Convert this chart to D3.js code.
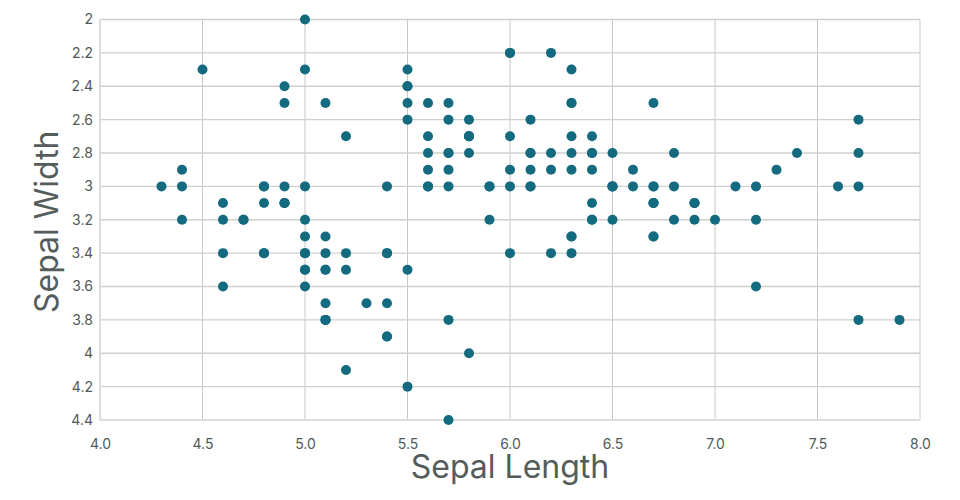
<!DOCTYPE html>
<html><head><meta charset="utf-8">
<script src="https://cdn.jsdelivr.net/npm/d3@7"></script>
<style>body{margin:0;background:#fff}svg{display:block;font-family:Inter,"Open Sans",sans-serif}</style>
</head><body><svg id="c" width="960" height="500"></svg>
<script>
const sepalLength = [5.1,4.9,4.7,4.6,5.0,5.4,4.6,5.0,4.4,4.9,5.4,4.8,4.8,4.3,5.8,5.7,5.4,5.1,5.7,5.1,5.4,5.1,4.6,5.1,4.8,5.0,5.0,5.2,5.2,4.7,4.8,5.4,5.2,5.5,4.9,5.0,5.5,4.9,4.4,5.1,5.0,4.5,4.4,5.0,5.1,4.8,5.1,4.6,5.3,5.0,
7.0,6.4,6.9,5.5,6.5,5.7,6.3,4.9,6.6,5.2,5.0,5.9,6.0,6.1,5.6,6.7,5.6,5.8,6.2,5.6,5.9,6.1,6.3,6.1,6.4,6.6,6.8,6.7,6.0,5.7,5.5,5.5,5.8,6.0,5.4,6.0,6.7,6.3,5.6,5.5,5.5,6.1,5.8,5.0,5.6,5.7,5.7,6.2,5.1,5.7,
6.3,5.8,7.1,6.3,6.5,7.6,4.9,7.3,6.7,7.2,6.5,6.4,6.8,5.7,5.8,6.4,6.5,7.7,7.7,6.0,6.9,5.6,7.7,6.3,6.7,7.2,6.2,6.1,6.4,7.2,7.4,7.9,6.4,6.3,6.1,7.7,6.3,6.4,6.0,6.9,6.7,6.9,5.8,6.8,6.7,6.7,6.3,6.5,6.2,5.9];
const sepalWidth = [3.5,3.0,3.2,3.1,3.6,3.9,3.4,3.4,2.9,3.1,3.7,3.4,3.0,3.0,4.0,4.4,3.9,3.5,3.8,3.8,3.4,3.7,3.6,3.3,3.4,3.0,3.4,3.5,3.4,3.2,3.1,3.4,4.1,4.2,3.1,3.2,3.5,3.1,3.0,3.4,3.5,2.3,3.2,3.5,3.8,3.0,3.8,3.2,3.7,3.3,
3.2,3.2,3.1,2.3,2.8,2.8,3.3,2.4,2.9,2.7,2.0,3.0,2.2,2.9,2.9,3.1,3.0,2.7,2.2,2.5,3.2,2.8,2.5,2.8,2.9,3.0,2.8,3.0,2.9,2.6,2.4,2.4,2.7,2.7,3.0,3.4,3.1,2.3,3.0,2.5,2.6,3.0,2.6,2.3,2.7,3.0,2.9,2.9,2.5,2.8,
3.3,2.7,3.0,2.9,3.0,3.0,2.5,2.9,2.5,3.6,3.2,2.7,3.0,2.5,2.8,3.2,3.0,3.8,2.6,2.2,3.2,2.8,2.8,2.7,3.3,3.2,2.8,3.0,2.8,3.0,2.8,3.8,2.8,2.8,2.6,3.0,3.4,3.1,3.0,3.1,3.1,3.1,2.7,3.2,3.3,3.0,2.5,3.0,3.4,3.0];
const xTicks = [4.0,4.5,5.0,5.5,6.0,6.5,7.0,7.5,8.0];
const yTicks = [2,2.2,2.4,2.6,2.8,3,3.2,3.4,3.6,3.8,4,4.2,4.4];

const svg = d3.select("#c");
const L=100, R=920, T=19.5, B=420;
const x = d3.scaleLinear().domain([4,8]).range([L,R]);
const y = d3.scaleLinear().domain([2,4.4]).range([T,B]);

const grid = svg.append("g");
grid.selectAll("line.v").data(xTicks).join("line")
  .attr("x1",d=>x(d)).attr("x2",d=>x(d)).attr("y1",T).attr("y2",B)
  .attr("stroke","#c8c8c8").attr("stroke-width",1);
grid.selectAll("line.h").data(yTicks).join("line")
  .attr("y1",d=>y(d)).attr("y2",d=>y(d)).attr("x1",L).attr("x2",R)
  .attr("stroke","#cfcfcb").attr("stroke-width",1.3);
// frame
svg.append("line").attr("x1",L).attr("x2",L).attr("y1",T).attr("y2",B).attr("stroke","#deded8").attr("stroke-width",2);
svg.append("line").attr("x1",L).attr("x2",R).attr("y1",B).attr("y2",B).attr("stroke","#deded8").attr("stroke-width",2);

const xa = svg.append("g").attr("transform",`translate(0,${B})`)
  .call(d3.axisBottom(x).tickValues(xTicks).tickFormat(d3.format(".1f")).tickSize(0).tickPadding(19));
const ya = svg.append("g").attr("transform",`translate(${L},0)`)
  .call(d3.axisLeft(y).tickValues(yTicks).tickFormat(d=>String(+d.toFixed(1))).tickSize(0).tickPadding(7));
[xa,ya].forEach(a=>{a.select(".domain").remove();
  a.selectAll("text").attr("font-size",14).attr("fill","#4f5b59").attr("font-family","Inter,sans-serif");});

svg.append("g").selectAll("circle").data(sepalLength.map((d,i)=>[d,sepalWidth[i]])).join("circle")
  .attr("cx",d=>x(d[0])).attr("cy",d=>y(d[1])).attr("r",5).attr("fill","#146b80");

svg.append("text").attr("x",(L+R)/2).attr("y",478).attr("text-anchor","middle")
  .attr("font-size",32).attr("fill","#545d5b").text("Sepal Length");
svg.append("text").attr("transform",`translate(58,${(T+B)/2+2}) rotate(-90)`).attr("text-anchor","middle")
  .attr("font-size",32).attr("fill","#545d5b").text("Sepal Width");
</script></body></html>
